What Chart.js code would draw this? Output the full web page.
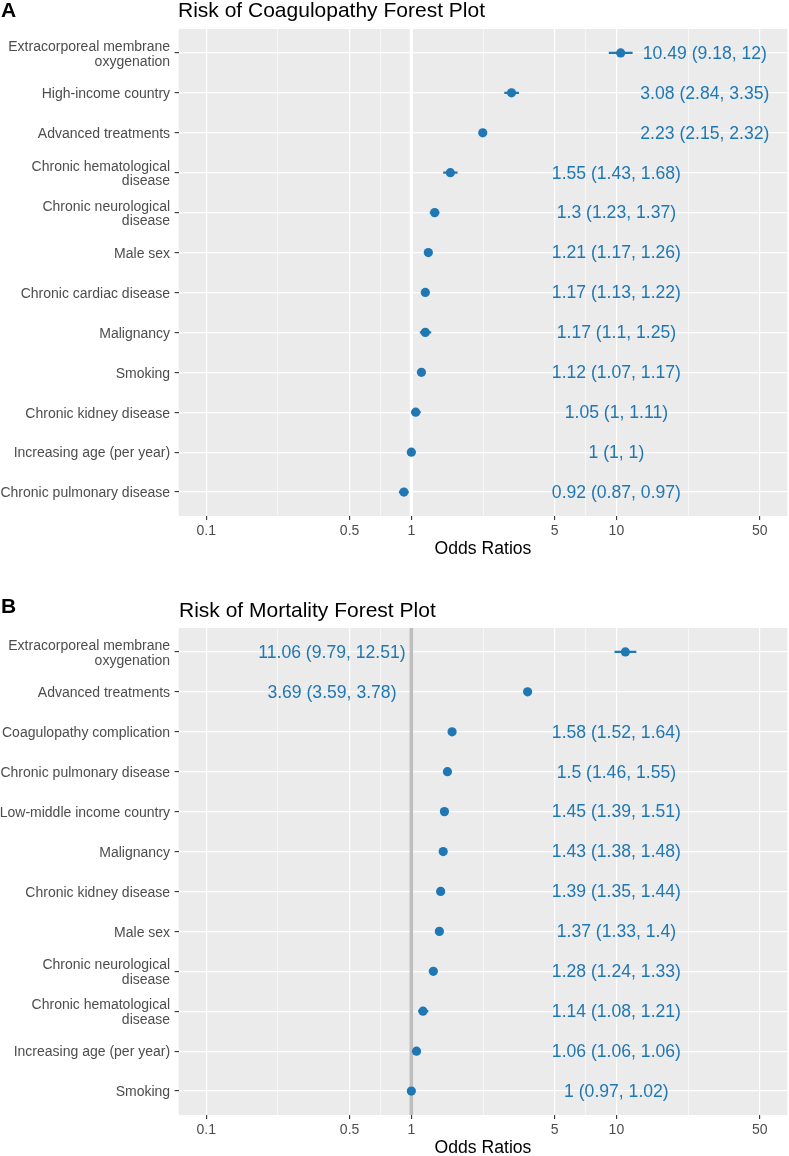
<!DOCTYPE html>
<html><head><meta charset="utf-8">
<script src="https://cdn.jsdelivr.net/npm/chart.js@4.4.1/dist/chart.umd.min.js"></script>
<style>
html,body{margin:0;padding:0;background:#fff;width:789px;height:1156px;overflow:hidden;position:relative;font-family:'Liberation Sans',Arial,sans-serif}
.panel{position:absolute;left:0;width:792px;height:560px}
.letter{position:absolute;font-weight:bold;font-size:21px;line-height:21px;color:#000}
.title{position:absolute;font-size:21px;line-height:21px;color:#000;white-space:nowrap}
</style></head><body>
<div class="panel" style="top:0"><canvas id="chartA" width="792" height="560"></canvas></div>
<div class="panel" style="top:599px"><canvas id="chartB" width="792" height="560"></canvas></div>
<div class="letter" style="left:1px;top:-1px">A</div>
<div class="title" style="left:178px;top:-1px">Risk of Coagulopathy Forest Plot</div>
<div class="letter" style="left:1px;top:595px">B</div>
<div class="title" style="left:179px;top:599px">Risk of Mortality Forest Plot</div>
<script>
// ---------- data ----------
const coagLabels = [
  'Extracorporeal membrane\noxygenation', 'High-income country', 'Advanced treatments',
  'Chronic hematological\ndisease', 'Chronic neurological\ndisease', 'Male sex',
  'Chronic cardiac disease', 'Malignancy', 'Smoking', 'Chronic kidney disease',
  'Increasing age (per year)', 'Chronic pulmonary disease'
];
const coagOR   = [10.49, 3.08, 2.23, 1.55, 1.3, 1.21, 1.17, 1.17, 1.12, 1.05, 1, 0.92];
const coagLow  = [9.18, 2.84, 2.15, 1.43, 1.23, 1.17, 1.13, 1.1, 1.07, 1, 1, 0.87];
const coagHigh = [12, 3.35, 2.32, 1.68, 1.37, 1.26, 1.22, 1.25, 1.17, 1.11, 1, 0.97];

const mortLabels = [
  'Extracorporeal membrane\noxygenation', 'Advanced treatments', 'Coagulopathy complication',
  'Chronic pulmonary disease', 'Low-middle income country', 'Malignancy',
  'Chronic kidney disease', 'Male sex', 'Chronic neurological\ndisease',
  'Chronic hematological\ndisease', 'Increasing age (per year)', 'Smoking'
];
const mortOR   = [11.06, 3.69, 1.58, 1.5, 1.45, 1.43, 1.39, 1.37, 1.28, 1.14, 1.06, 1];
const mortLow  = [9.79, 3.59, 1.52, 1.46, 1.39, 1.38, 1.35, 1.33, 1.24, 1.08, 1.06, 0.97];
const mortHigh = [12.51, 3.78, 1.64, 1.55, 1.51, 1.48, 1.44, 1.4, 1.33, 1.21, 1.06, 1.02];

const xTickValues = [0.1, 0.5, 1, 5, 10, 50];
const xLimits = [0.1, 50];

// ---------- drawing ----------
Chart.defaults.font.family = "'Liberation Sans', Arial, sans-serif";
const BLUE = '#1F77B4';

const panelBg = {
  id: 'panelBg',
  beforeDraw(chart) {
    const {ctx, chartArea: a} = chart;
    ctx.save();
    ctx.fillStyle = '#EBEBEB';
    ctx.fillRect(a.left, a.top, a.right - a.left, a.bottom - a.top);
    ctx.restore();
  }
};
const refLine = {
  id: 'refLine',
  beforeDatasetsDraw(chart, args, opts) {
    const {ctx, chartArea: a, scales} = chart;
    const x = scales.x.getPixelForValue(1);
    ctx.save();
    ctx.strokeStyle = opts.color;
    ctx.lineWidth = opts.width;
    ctx.beginPath();
    ctx.moveTo(x, a.top);
    ctx.lineTo(x, a.bottom);
    ctx.stroke();
    ctx.restore();
  }
};
const orText = {
  id: 'orText',
  afterDatasetsDraw(chart, args, opts) {
    const {ctx, scales} = chart;
    ctx.save();
    ctx.fillStyle = BLUE;
    ctx.font = "17.6px 'Liberation Sans', Arial, sans-serif";
    ctx.textAlign = 'center';
    ctx.textBaseline = 'middle';
    opts.or.forEach((v, i) => {
      const at = v >= opts.threshold ? opts.highAt : opts.lowAt;
      const txt = `${v} (${opts.lo[i]}, ${opts.hi[i]})`;
      ctx.fillText(txt, scales.x.getPixelForValue(at), scales.y.getPixelForValue(i) + 1);
    });
    ctx.restore();
  }
};

function makeChart(id, labels, or, lo, hi, refOpts, textOpts) {
  const n = labels.length;
  const rows = labels.map((_, i) => i);
  const datasets = [{
    label: 'OR',
    data: or.map((v, i) => ({x: v, y: i})),
    showLine: false,
    pointRadius: 4.6,
    pointHoverRadius: 4.6,
    pointBackgroundColor: BLUE,
    pointBorderWidth: 0
  }];
  rows.forEach(i => datasets.push({
    label: 'CI',
    data: [{x: lo[i], y: i}, {x: hi[i], y: i}],
    showLine: true,
    borderColor: BLUE,
    borderWidth: 2.2,
    pointRadius: 0,
    borderCapStyle: 'butt'
  }));
  const lmin = Math.log10(xLimits[0]), lmax = Math.log10(xLimits[1]);
  const ex = 0.05 * (lmax - lmin);
  return new Chart(document.getElementById(id), {
    type: 'scatter',
    data: {datasets},
    plugins: [panelBg, refLine, orText],
    options: {
      responsive: false,
      animation: false,
      layout: {padding: {top: 29, right: 1.4, left: 0, bottom: 0}},
      plugins: {
        legend: {display: false},
        tooltip: {enabled: false},
        refLine: refOpts,
        orText: Object.assign({or, lo, hi}, textOpts)
      },
      scales: {
        x: {
          type: 'logarithmic',
          min: Math.pow(10, lmin - ex),
          max: Math.pow(10, lmax + ex),
          afterBuildTicks: s => {
            const t = [];
            xTickValues.forEach((v, i) => {
              if (i > 0) t.push({value: Math.sqrt(xTickValues[i - 1] * v), minor: true});
              t.push({value: v});
            });
            s.ticks = t;
          },
          afterFit: s => { s.height = 44; s.paddingLeft = 0; s.paddingRight = 0; },
          grid: {
            color: '#FFFFFF',
            lineWidth: c => (c.tick && c.tick.minor) ? 0.6 : 1.2,
            tickColor: c => (c.tick && c.tick.minor) ? 'rgba(0,0,0,0)' : '#333333',
            tickWidth: 1.1,
            tickLength: 4
          },
          border: {display: false},
          ticks: {
            autoSkip: false, maxRotation: 0, padding: 3,
            color: '#4D4D4D', font: {size: 14},
            callback: (v, i, t) => t[i].minor ? '' : String(v)
          },
          title: {
            display: true, text: 'Odds Ratios', color: '#000000',
            font: {size: 17.6, lineHeight: 1.2}, padding: {top: 0, bottom: 0}
          }
        },
        y: {
          type: 'linear',
          reverse: true,
          min: -0.6,
          max: n - 1 + 0.6,
          afterBuildTicks: s => { s.ticks = rows.map(i => ({value: i})); },
          afterFit: s => { s.width = 178.6; s.paddingTop = 0; s.paddingBottom = 0; },
          grid: {color: '#FFFFFF', lineWidth: 1.2, tickColor: '#333333', tickWidth: 1.1, tickLength: 4},
          border: {display: false},
          ticks: {
            autoSkip: false, padding: 4.5, color: '#4D4D4D', labelOffset: 1.5,
            font: {size: 14, lineHeight: 1.05},
            callback: v => labels[v] ? labels[v].split('\n') : ''
          }
        }
      }
    }
  });
}

makeChart('chartA', coagLabels, coagOR, coagLow, coagHigh,
  {color: '#FFFFFF', width: 3.3},
  {threshold: 2, highAt: 27, lowAt: 10});
makeChart('chartB', mortLabels, mortOR, mortLow, mortHigh,
  {color: '#BEBEBE', width: 3.5},
  {threshold: 3, highAt: 0.41, lowAt: 10});
</script>
</body></html>
